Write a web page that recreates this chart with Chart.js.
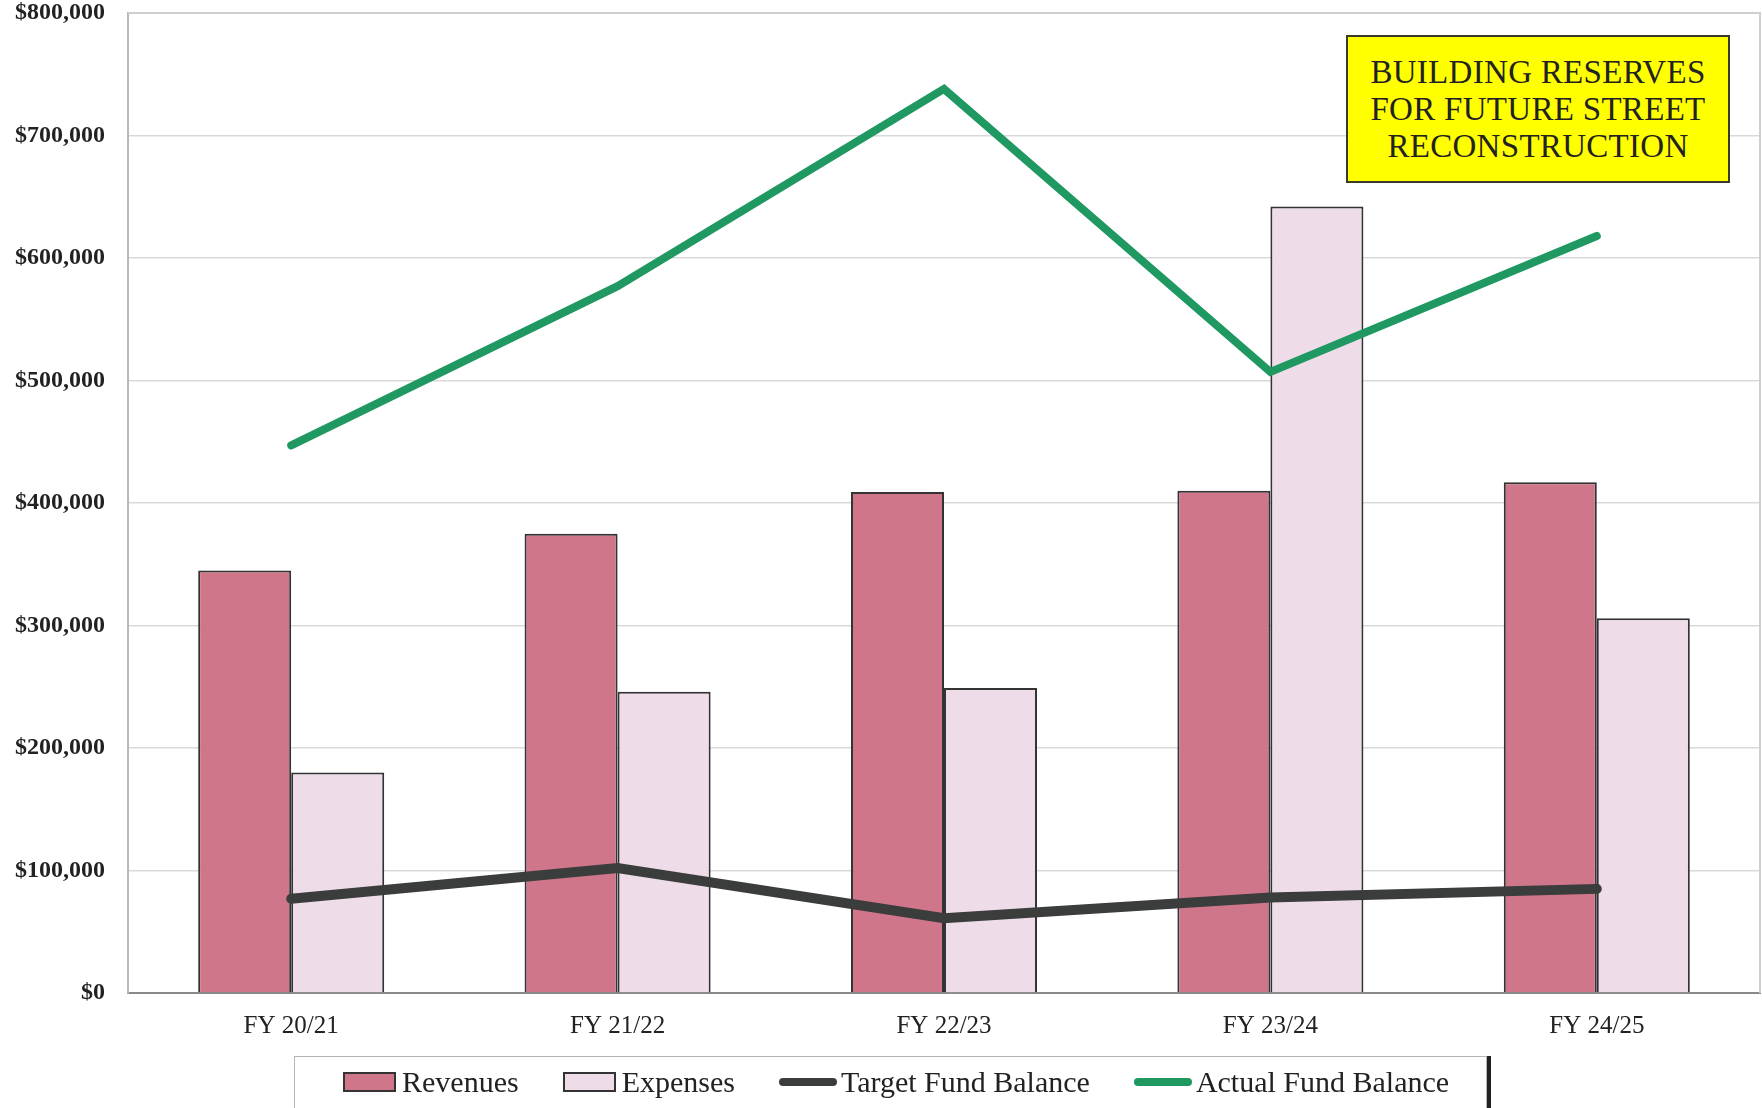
<!DOCTYPE html>
<html>
<head>
<meta charset="utf-8">
<script src="https://cdn.jsdelivr.net/npm/chart.js@4.4.1/dist/chart.umd.min.js"></script>
<style>
  body { margin: 0; background: #fff; }
  #wrap { position: relative; width: 1762px; height: 1108px; overflow: hidden; }
  #note {
    position: absolute; left: 1346px; top: 35px; width: 380px; height: 144px;
    background: #ffff00; border: 2px solid #3a3a2a; box-sizing: content-box;
    font-family: "Liberation Serif", "DejaVu Serif", serif; font-size: 33px;
    line-height: 37px; color: #222; text-align: center; letter-spacing: 0.3px;
    display: flex; flex-direction: column; justify-content: center;
  }
  #legend {
    position: absolute; left: 294px; top: 1056px; width: 1193px; height: 60px;
    border: 1px solid #b5b5b5; box-shadow: 4px 0 0 #222;
    display: flex; align-items: center; padding-left: 48px; box-sizing: border-box;
    padding-bottom: 8px; white-space: nowrap;
    font-family: "Liberation Serif", "DejaVu Serif", serif; font-size: 30px; color: #222;
  }
  .item { display: flex; align-items: center; margin-right: 44px; flex-shrink: 0; }
  .swatch { width: 49px; height: 16px; border: 2px solid #333; margin-right: 6px; flex-shrink: 0; }
  .stroke { width: 58px; height: 8px; border-radius: 4px; margin-right: 4px; flex-shrink: 0; }
</style>
</head>
<body>
<div id="wrap">
  <canvas id="c" width="1762" height="1108"></canvas>
  <div id="note"><div>BUILDING RESERVES</div><div>FOR FUTURE STREET</div><div>RECONSTRUCTION</div></div>
  <div id="legend"></div>
</div>
<script>
const categories = ["FY 20/21", "FY 21/22", "FY 22/23", "FY 23/24", "FY 24/25"];
const revenues = [345000, 375000, 409000, 410000, 417000];
const expenses = [180000, 246000, 249000, 642000, 306000];
const targetBalance = [77000, 102000, 61000, 78000, 85000];
const actualBalance = [447000, 577000, 738000, 507000, 618000];
const yMax = 800000;
const yStep = 100000;

const serif = "'Liberation Serif', 'DejaVu Serif', serif";

// draws the thin frame round the plot area
const frame = {
  id: "frame",
  afterDraw(chart) {
    const a = chart.chartArea, ctx = chart.ctx;
    ctx.save();
    ctx.strokeStyle = "#cfcfcf";
    ctx.lineWidth = 2;
    ctx.beginPath();
    ctx.moveTo(a.left, a.top);
    ctx.lineTo(a.right, a.top);
    ctx.lineTo(a.right, a.bottom);
    ctx.stroke();
    ctx.restore();
  }
};

// legend built from the datasets into the html box
const htmlLegend = {
  id: "htmlLegend",
  afterUpdate(chart) {
    const box = document.getElementById("legend");
    box.innerHTML = "";
    chart.data.datasets.forEach(ds => {
      const item = document.createElement("div");
      item.className = "item";
      const mark = document.createElement("span");
      if (ds.type === "line") {
        mark.className = "stroke";
        mark.style.background = ds.borderColor;
      } else {
        mark.className = "swatch";
        mark.style.background = ds.backgroundColor;
      }
      const txt = document.createElement("span");
      txt.textContent = ds.label;
      item.appendChild(mark);
      item.appendChild(txt);
      box.appendChild(item);
    });
  }
};

new Chart(document.getElementById("c"), {
  data: {
    labels: categories,
    datasets: [
      { type: "bar", label: "Revenues", data: revenues, backgroundColor: "#d0768a",
        borderColor: "#333", borderWidth: 2, order: 2 },
      { type: "bar", label: "Expenses", data: expenses, backgroundColor: "#eedde9",
        borderColor: "#333", borderWidth: 2, order: 2 },
      { type: "line", label: "Target Fund Balance", data: targetBalance, borderColor: "#3b3d3d",
        borderWidth: 10, pointRadius: 0, tension: 0, borderCapStyle: "round", order: 1 },
      { type: "line", label: "Actual Fund Balance", data: actualBalance, borderColor: "#1f9862",
        borderWidth: 8, pointRadius: 0, tension: 0, borderCapStyle: "round", order: 0 }
    ]
  },
  options: {
    responsive: false,
    animation: false,
    layout: { padding: { left: 0, right: 2, top: 13, bottom: 65 } },
    datasets: { bar: { categoryPercentage: 0.57, barPercentage: 1.0 } },
    plugins: { legend: { display: false }, tooltip: { enabled: false } },
    scales: {
      x: {
        grid: { display: false },
        border: { color: "#8a8a8a", width: 2 },
        ticks: { color: "#222", padding: 10, font: { family: serif, size: 25 } },
        afterFit(s) { s.height = 50; }
      },
      y: {
        min: 0, max: yMax,
        grid: { color: "#d9d9d9", lineWidth: 1.5, drawTicks: false },
        border: { color: "#b8b8b8", width: 2 },
        ticks: {
          stepSize: yStep, padding: 23, color: "#222",
          font: { family: serif, size: 24, weight: "bold" },
          callback: v => "$" + v.toLocaleString("en-US")
        },
        afterFit(s) { s.width = 128; s.paddingTop = 0; s.paddingBottom = 0; }
      }
    }
  },
  plugins: [frame, htmlLegend]
});
</script>
</body>
</html>
